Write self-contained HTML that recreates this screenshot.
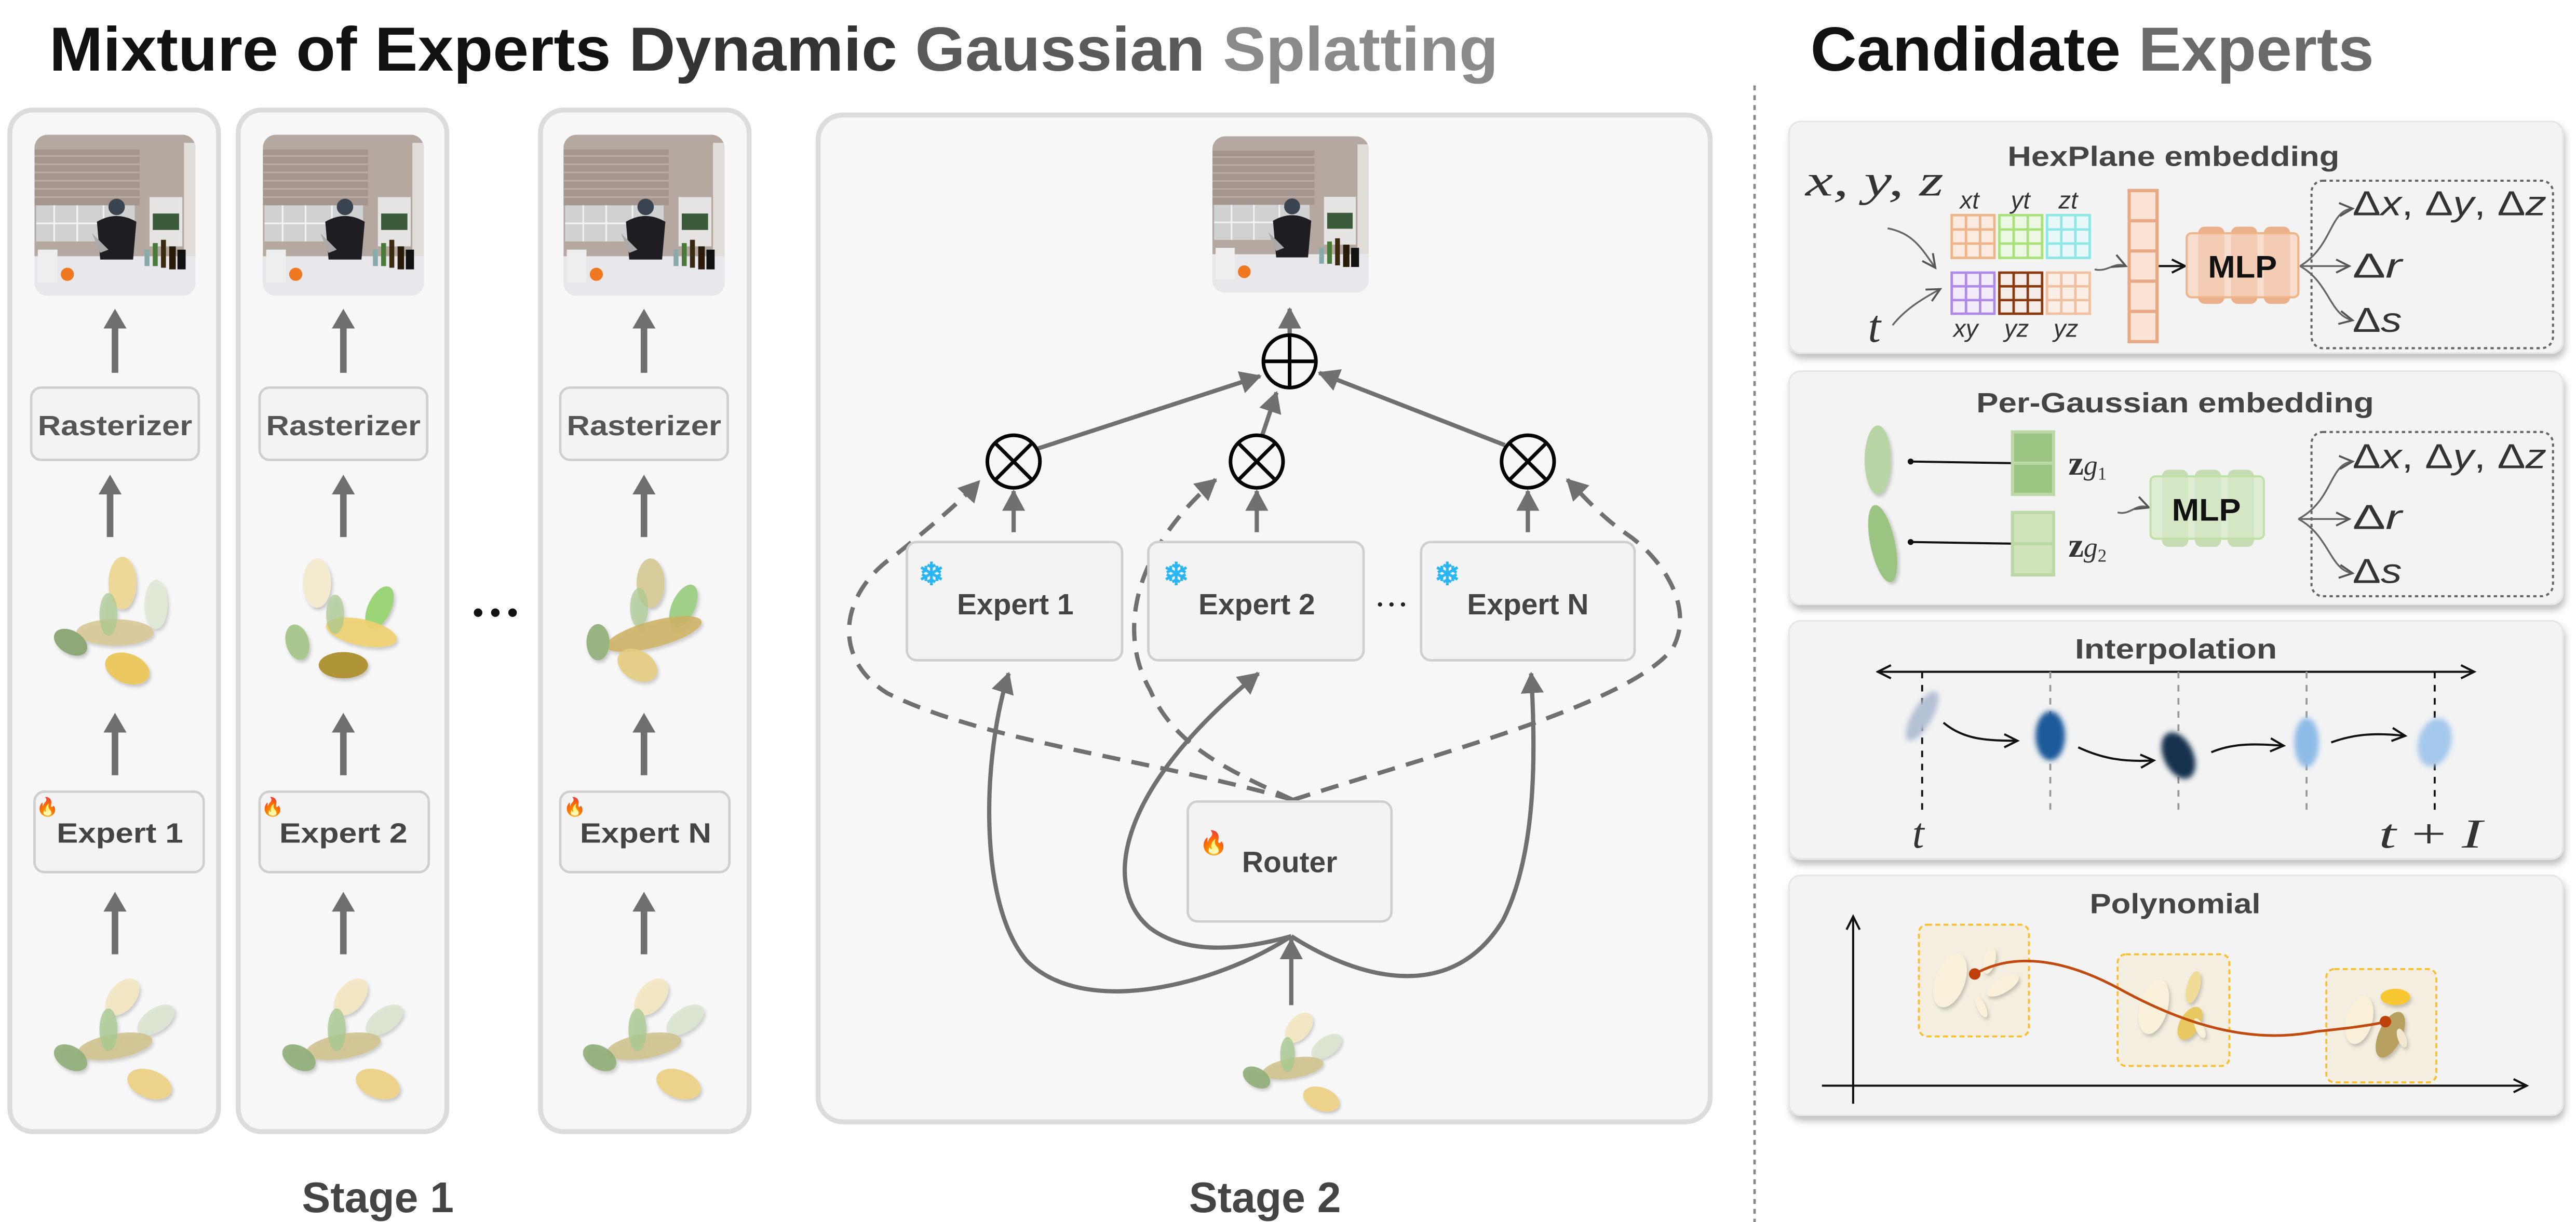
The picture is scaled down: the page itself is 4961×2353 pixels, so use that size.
<!DOCTYPE html>
<html><head><meta charset="utf-8"><style>
html,body{margin:0;padding:0;background:#fff;}
svg{display:block;}
text{font-family:"Liberation Sans",sans-serif;}
.m{font-family:"Liberation Serif",serif;font-style:italic;fill:#333;}
.mu{font-family:"Liberation Serif",serif;fill:#333;}
</style></head><body>
<svg width="4961" height="2353" viewBox="0 0 1568 744" preserveAspectRatio="none" xmlns="http://www.w3.org/2000/svg">
<defs>
 <marker id="ah" markerUnits="userSpaceOnUse" markerWidth="16" markerHeight="16" refX="12" refY="7" orient="auto">
  <path d="M0,0 L13,7 L0,14 Z" fill="#707070"/>
 </marker>
 <marker id="oa" markerUnits="userSpaceOnUse" markerWidth="12" markerHeight="12" refX="9" refY="5" orient="auto">
  <path d="M1,1 L9,5 L1,9" fill="none" stroke="#555" stroke-width="1.2"/>
 </marker>
 <marker id="ba" markerUnits="userSpaceOnUse" markerWidth="12" markerHeight="12" refX="9" refY="5" orient="auto">
  <path d="M1,1 L9,5 L1,9" fill="none" stroke="#111" stroke-width="1.3"/>
 </marker>
 <marker id="bs" markerUnits="userSpaceOnUse" markerWidth="12" markerHeight="12" refX="1" refY="5" orient="auto">
  <path d="M9,1 L1,5 L9,9" fill="none" stroke="#111" stroke-width="1.3"/>
 </marker>
 <filter id="sh" x="-10%" y="-10%" width="120%" height="130%"><feDropShadow dx="1" dy="3" stdDeviation="2" flood-color="#000" flood-opacity="0.25"/></filter>
 <filter id="bl" x="-50%" y="-50%" width="200%" height="200%"><feGaussianBlur stdDeviation="1.6"/></filter>
 <filter id="es" x="-30%" y="-30%" width="160%" height="160%"><feDropShadow dx="1" dy="1.5" stdDeviation="1" flood-color="#000" flood-opacity="0.2"/></filter>
 <clipPath id="pc"><rect x="0" y="0" width="98" height="98" rx="8"/></clipPath>
 <g id="photo">
  <g clip-path="url(#pc)">
   <rect width="98" height="98" fill="#b4a8a0"/>
   <rect x="0" y="9" width="64" height="34" fill="#a4968e"/>
   <g stroke="#b8aca4" stroke-width="1"><line x1="0" y1="13" x2="64" y2="13"/><line x1="0" y1="18" x2="64" y2="18"/><line x1="0" y1="23" x2="64" y2="23"/><line x1="0" y1="28" x2="64" y2="28"/><line x1="0" y1="33" x2="64" y2="33"/><line x1="0" y1="38" x2="64" y2="38"/></g>
   <rect x="1" y="43" width="60" height="22" fill="#cfd2d0"/>
   <g stroke="#f2f2f2" stroke-width="1"><line x1="12" y1="43" x2="12" y2="65"/><line x1="26" y1="43" x2="26" y2="65"/><line x1="42" y1="43" x2="42" y2="65"/><line x1="1" y1="54" x2="61" y2="54"/></g>
   <rect x="70" y="38" width="20" height="30" fill="#e6e4e2"/>
   <rect x="72" y="48" width="16" height="10" fill="#3a5a3a"/>
   <rect x="91" y="5" width="7" height="80" fill="#e0dcd8"/>
   <rect x="0" y="74" width="98" height="24" fill="#e8e8ec"/>
   <circle cx="50" cy="44" r="5" fill="#3a4450"/>
   <path d="M38,53 Q50,46 62,53 L60,76 L40,76 Z" fill="#1e1e22"/>
   <path d="M35,60 L45,70 L40,72 Z" fill="#aaa"/>
   <rect x="72" y="66" width="3" height="14" fill="#4a7a3a"/><rect x="77" y="64" width="3" height="17" fill="#3a2a10"/><rect x="82" y="68" width="4" height="14" fill="#2a1a0a"/><rect x="87" y="70" width="5" height="12" fill="#111"/><rect x="67" y="70" width="3" height="10" fill="#8aa"/>
   <circle cx="20" cy="85" r="4" fill="#f07820"/><rect x="2" y="70" width="12" height="20" fill="#eee"/>
  </g>
 </g>
 <g id="clb">
  <ellipse cx="74.5" cy="607" rx="8" ry="13" transform="rotate(40 74.5 607)" fill="#f3e6c0" opacity="0.9"/>
  <ellipse cx="95" cy="621" rx="7" ry="13" transform="rotate(55 95 621)" fill="#d8e4cc" opacity="0.85"/>
  <ellipse cx="70" cy="637" rx="23" ry="7.5" transform="rotate(-10 70 637)" fill="#cfc08a" opacity="0.85"/>
  <ellipse cx="66" cy="627" rx="5.5" ry="13" fill="#a8c890" opacity="0.8"/>
  <ellipse cx="43" cy="644" rx="11" ry="7" transform="rotate(30 43 644)" fill="#8fae78" opacity="0.9"/>
  <ellipse cx="91" cy="660" rx="14" ry="8.5" transform="rotate(20 91 660)" fill="#ecd28a"/>
 </g>
</defs>

<!-- Titles -->
<text x="30" y="43" font-size="38" font-weight="bold" textLength="882" lengthAdjust="spacingAndGlyphs"><tspan fill="#111">Mixture of Experts </tspan><tspan fill="#333">Dynamic </tspan><tspan fill="#5a5a5a">Gaussian </tspan><tspan fill="#8a8a8a">Splatting</tspan></text>
<text x="1102" y="43" font-size="38" font-weight="bold" textLength="343" lengthAdjust="spacingAndGlyphs"><tspan fill="#111">Candidate </tspan><tspan fill="#6a6a6a">Experts</tspan></text>

<line x1="1068" y1="52" x2="1068" y2="744" stroke="#888" stroke-width="1.5" stroke-dasharray="3,3"/>

<!-- Stage 1 panels -->
<g>
 <rect x="6" y="67" width="127" height="622" rx="14" fill="#f7f7f7" stroke="#dcdcdc" stroke-width="3"/>
 <rect x="145" y="67" width="127" height="622" rx="14" fill="#f7f7f7" stroke="#dcdcdc" stroke-width="3"/>
 <rect x="329" y="67" width="127" height="622" rx="14" fill="#f7f7f7" stroke="#dcdcdc" stroke-width="3"/>
</g>
<g id="col1">
 <use href="#photo" x="21" y="82"/>
 <path d="M68,227 V200 H63 L70,188 L77,200 H72 V227 Z" fill="#6f6f6f"/>
 <rect x="19" y="236" width="102" height="44" rx="6" fill="#f3f3f3" stroke="#cfcfcf" stroke-width="1.5"/>
 <text x="70" y="265" font-size="17" font-weight="bold" fill="#555" text-anchor="middle" textLength="94" lengthAdjust="spacingAndGlyphs">Rasterizer</text>
 <path d="M65,327 V301 H60 L67,289 L74,301 H69 V327 Z" fill="#6f6f6f"/>
 <path d="M68,472 V446 H63 L70,434 L77,446 H72 V472 Z" fill="#6f6f6f"/>
 <rect x="21" y="482" width="103" height="49" rx="6" fill="#f3f3f3" stroke="#cfcfcf" stroke-width="1.5"/>
 <text x="73" y="513" font-size="17" font-weight="bold" fill="#444" text-anchor="middle" textLength="77" lengthAdjust="spacingAndGlyphs">Expert 1</text>
 <path d="M68,581 V555 H63 L70,543 L77,555 H72 V581 Z" fill="#6f6f6f"/>
 <use href="#clb" filter="url(#es)"/>
</g>
<!-- top clusters -->
<g filter="url(#es)">
 <ellipse cx="74.5" cy="355" rx="8.5" ry="16" fill="#eed898"/>
 <ellipse cx="95" cy="368" rx="7" ry="15" fill="#dfe8d4" opacity="0.9"/>
 <ellipse cx="70" cy="385" rx="23.5" ry="8" fill="#d6c690" opacity="0.85"/>
 <ellipse cx="66" cy="374" rx="5.5" ry="13" fill="#a8c890" opacity="0.7"/>
 <ellipse cx="43" cy="391" rx="11" ry="7" transform="rotate(30 43 391)" fill="#8fa878"/>
 <ellipse cx="77.5" cy="407" rx="14" ry="9" transform="rotate(20 77.5 407)" fill="#ebc860"/>
</g>
<g filter="url(#es)">
 <ellipse cx="193" cy="355" rx="8.5" ry="15" fill="#f4ead0"/>
 <ellipse cx="231" cy="370" rx="7" ry="14" transform="rotate(25 231 370)" fill="#9cd478"/>
 <ellipse cx="220" cy="385" rx="22" ry="8" transform="rotate(12 220 385)" fill="#f0d070" opacity="0.9"/>
 <ellipse cx="204" cy="374" rx="5.5" ry="12" fill="#a8c890" opacity="0.7"/>
 <ellipse cx="181" cy="391" rx="7" ry="11" transform="rotate(-15 181 391)" fill="#a8c890"/>
 <ellipse cx="209" cy="405" rx="15" ry="8" fill="#b09438"/>
</g>
<g filter="url(#es)">
 <ellipse cx="396" cy="355" rx="8.5" ry="15" fill="#d8cc9c"/>
 <ellipse cx="416" cy="369" rx="7" ry="14" transform="rotate(25 416 369)" fill="#a0d088"/>
 <ellipse cx="389" cy="370" rx="5.5" ry="12" fill="#a8c890" opacity="0.7"/>
 <ellipse cx="398" cy="386" rx="30" ry="8" transform="rotate(-15 398 386)" fill="#cdb060" opacity="0.85"/>
 <ellipse cx="364" cy="391" rx="7" ry="11" fill="#98b480"/>
 <ellipse cx="388" cy="405" rx="13" ry="9" transform="rotate(30 388 405)" fill="#e6cc80" opacity="0.9"/>
</g>
<g transform="translate(139,0)">
 <use href="#photo" x="21" y="82"/>
 <path d="M68,227 V200 H63 L70,188 L77,200 H72 V227 Z" fill="#6f6f6f"/>
 <rect x="19" y="236" width="102" height="44" rx="6" fill="#f3f3f3" stroke="#cfcfcf" stroke-width="1.5"/>
 <text x="70" y="265" font-size="17" font-weight="bold" fill="#555" text-anchor="middle" textLength="94" lengthAdjust="spacingAndGlyphs">Rasterizer</text>
 <path d="M68,327 V301 H63 L70,289 L77,301 H72 V327 Z" fill="#6f6f6f"/>
 <path d="M68,472 V446 H63 L70,434 L77,446 H72 V472 Z" fill="#6f6f6f"/>
 <rect x="19" y="482" width="103" height="49" rx="6" fill="#f3f3f3" stroke="#cfcfcf" stroke-width="1.5"/>
 <text x="70" y="513" font-size="17" font-weight="bold" fill="#444" text-anchor="middle" textLength="78" lengthAdjust="spacingAndGlyphs">Expert 2</text>
 <path d="M68,581 V555 H63 L70,543 L77,555 H72 V581 Z" fill="#6f6f6f"/>
 <use href="#clb" filter="url(#es)"/>
</g>
<g transform="translate(322,0)">
 <use href="#photo" x="21" y="82"/>
 <path d="M68,227 V200 H63 L70,188 L77,200 H72 V227 Z" fill="#6f6f6f"/>
 <rect x="19" y="236" width="102" height="44" rx="6" fill="#f3f3f3" stroke="#cfcfcf" stroke-width="1.5"/>
 <text x="70" y="265" font-size="17" font-weight="bold" fill="#555" text-anchor="middle" textLength="94" lengthAdjust="spacingAndGlyphs">Rasterizer</text>
 <path d="M68,327 V301 H63 L70,289 L77,301 H72 V327 Z" fill="#6f6f6f"/>
 <path d="M68,472 V446 H63 L70,434 L77,446 H72 V472 Z" fill="#6f6f6f"/>
 <rect x="19" y="482" width="103" height="49" rx="6" fill="#f3f3f3" stroke="#cfcfcf" stroke-width="1.5"/>
 <text x="71" y="513" font-size="17" font-weight="bold" fill="#444" text-anchor="middle" textLength="80" lengthAdjust="spacingAndGlyphs">Expert N</text>
 <path d="M68,581 V555 H63 L70,543 L77,555 H72 V581 Z" fill="#6f6f6f"/>
 <use href="#clb" filter="url(#es)"/>
</g>
<g font-size="11"><text x="22" y="495">🔥</text><text x="159" y="495">🔥</text><text x="343" y="495">🔥</text></g>
<g fill="#111"><circle cx="291" cy="373" r="2.6"/><circle cx="301.5" cy="373" r="2.6"/><circle cx="312" cy="373" r="2.6"/></g>

<text x="230" y="738" font-size="26" font-weight="bold" fill="#444" text-anchor="middle">Stage 1</text>
<text x="770" y="738" font-size="26" font-weight="bold" fill="#444" text-anchor="middle">Stage 2</text>

<!-- Stage 2 -->
<rect x="498" y="70" width="543" height="613" rx="15" fill="#f7f7f7" stroke="#dcdcdc" stroke-width="3"/>
<use href="#photo" transform="translate(738,83) scale(0.97)"/>
<g fill="none" stroke="#707070" stroke-width="2.6">
 <line x1="785" y1="203" x2="785" y2="188" marker-end="url(#ah)"/>
 <line x1="632" y1="273" x2="767" y2="229" marker-end="url(#ah)"/>
 <line x1="768" y1="266" x2="777" y2="239" marker-end="url(#ah)"/>
 <line x1="916" y1="271" x2="803" y2="227" marker-end="url(#ah)"/>
 <line x1="617" y1="324" x2="617" y2="299" marker-end="url(#ah)"/>
 <line x1="765" y1="324" x2="765" y2="299" marker-end="url(#ah)"/>
 <line x1="930" y1="324" x2="930" y2="299" marker-end="url(#ah)"/>
</g>
<g fill="none" stroke="#000" stroke-width="2.2">
 <circle cx="785" cy="220" r="16"/><line x1="769" y1="220" x2="801" y2="220"/><line x1="785" y1="204" x2="785" y2="236"/>
 <circle cx="617" cy="281" r="16"/><line x1="606" y1="270" x2="628" y2="292"/><line x1="628" y1="270" x2="606" y2="292"/>
 <circle cx="765" cy="281" r="16"/><line x1="754" y1="270" x2="776" y2="292"/><line x1="776" y1="270" x2="754" y2="292"/>
 <circle cx="930" cy="281" r="16"/><line x1="919" y1="270" x2="941" y2="292"/><line x1="941" y1="270" x2="919" y2="292"/>
</g>
<g fill="none" stroke="#707070" stroke-width="2.6" stroke-dasharray="11,7">
 <path d="M787,487 C700,462 600,452 540,422 C505,400 512,360 545,338 C565,322 585,305 596,293" marker-end="url(#ah)"/>
 <path d="M787,487 C750,470 715,455 700,420 C680,385 690,335 740,292" marker-end="url(#ah)"/>
 <path d="M787,487 C870,460 990,430 1018,395 C1032,370 1012,340 990,325 C975,315 962,300 954,292" marker-end="url(#ah)"/>
</g>
<g fill="none" stroke="#707070" stroke-width="2.6">
 <path d="M786,570 C740,600 660,620 625,585 C595,550 598,460 614,410" marker-end="url(#ah)"/>
 <path d="M786,570 C750,580 720,580 700,565 C670,540 680,480 766,410" marker-end="url(#ah)"/>
 <path d="M786,570 C830,598 885,610 915,560 C935,520 935,460 932,410" marker-end="url(#ah)"/>
 <line x1="786" y1="612" x2="786" y2="572" marker-end="url(#ah)"/>
</g>
<g fill="#f3f3f3" stroke="#cfcfcf" stroke-width="1.5">
 <rect x="552" y="330" width="131" height="72" rx="6"/>
 <rect x="699" y="330" width="131" height="72" rx="6"/>
 <rect x="865" y="330" width="130" height="72" rx="6"/>
 <rect x="723" y="488" width="124" height="73" rx="6"/>
</g>
<g font-size="19" fill="#29b6f6" font-weight="bold"><text x="559" y="356">❄</text><text x="708" y="356">❄</text><text x="873" y="356">❄</text></g>
<g font-size="18" font-weight="bold" fill="#444" text-anchor="middle">
 <text x="618" y="374">Expert 1</text><text x="765" y="374">Expert 2</text><text x="930" y="374">Expert N</text>
 <text x="785" y="531">Router</text>
</g>
<text x="730" y="518" font-size="14">🔥</text>
<g fill="#222"><circle cx="840" cy="368" r="1.3"/><circle cx="847" cy="368" r="1.3"/><circle cx="854" cy="368" r="1.3"/></g>
<g transform="translate(787,647) scale(0.82) translate(-70,-633)" filter="url(#es)"><use href="#clb"/></g>

<!-- Right panels -->
<g filter="url(#sh)" fill="#f3f3f3" stroke="#e6e6e6" stroke-width="1">
 <rect x="1089" y="74" width="471" height="141" rx="7"/>
 <rect x="1089" y="226" width="471" height="142" rx="7"/>
 <rect x="1089" y="378" width="471" height="145" rx="7"/>
 <rect x="1089" y="533" width="471" height="146" rx="7"/>
</g>
<g font-weight="bold" fill="#444" font-size="17">
 <text x="1222" y="101" textLength="202" lengthAdjust="spacingAndGlyphs">HexPlane embedding</text>
 <text x="1203" y="251" textLength="242" lengthAdjust="spacingAndGlyphs">Per-Gaussian embedding</text>
 <text x="1263" y="401" textLength="123" lengthAdjust="spacingAndGlyphs">Interpolation</text>
 <text x="1272" y="556" textLength="104" lengthAdjust="spacingAndGlyphs">Polynomial</text>
</g>
<!-- HexPlane -->
<text class="m" x="1099" y="119" font-size="27" textLength="84" lengthAdjust="spacingAndGlyphs">x, y, z</text>
<text class="m" x="1137" y="208" font-size="28">t</text>
<g class="m" font-size="15"><text x="1193" y="127">xt</text><text x="1224" y="127">yt</text><text x="1253" y="127">zt</text>
<text x="1189" y="205">xy</text><text x="1220" y="205">yz</text><text x="1250" y="205">yz</text></g>
<g stroke-width="1.5">
 <g stroke="#f0b48a" fill="#fbeadf"><rect x="1188" y="131" width="26" height="26"/><path d="M1196.7,131V157M1205.3,131V157M1188,139.7H1214M1188,148.3H1214" fill="none"/></g>
 <g stroke="#a8e07a" fill="#edf8e4"><rect x="1217" y="131" width="26" height="26"/><path d="M1225.7,131V157M1234.3,131V157M1217,139.7H1243M1217,148.3H1243" fill="none"/></g>
 <g stroke="#8ee6e6" fill="#e8f8f8"><rect x="1246" y="131" width="26" height="26"/><path d="M1254.7,131V157M1263.3,131V157M1246,139.7H1272M1246,148.3H1272" fill="none"/></g>
 <g stroke="#b08ae8" fill="#f1ebfa"><rect x="1188" y="166" width="26" height="25"/><path d="M1196.7,166V191M1205.3,166V191M1188,174.3H1214M1188,182.7H1214" fill="none"/></g>
 <g stroke="#8b3a10" fill="#f3ece8"><rect x="1217" y="166" width="26" height="25"/><path d="M1225.7,166V191M1234.3,166V191M1217,174.3H1243M1217,182.7H1243" fill="none"/></g>
 <g stroke="#f0c0a0" fill="#fbeee6"><rect x="1246" y="166" width="26" height="25"/><path d="M1254.7,166V191M1263.3,166V191M1246,174.3H1272M1246,182.7H1272" fill="none"/></g>
</g>
<g fill="none" stroke="#666" stroke-width="1.1">
 <path d="M1149,139 C1165,142 1170,152 1178,163" marker-end="url(#oa)"/>
 <path d="M1152,198 C1160,188 1170,182 1181,176" marker-end="url(#oa)"/>
 <path d="M1275,164 C1283,166 1287,159 1294,162" marker-end="url(#oa)"/>
</g>
<g fill="#fbe3d6" stroke="#eaa985" stroke-width="2"><rect x="1296" y="116" width="17" height="92"/><path d="M1296,134.4H1313M1296,152.8H1313M1296,171.2H1313M1296,189.6H1313" fill="none"/></g>
<line x1="1314" y1="162" x2="1330" y2="162" stroke="#111" stroke-width="1.3" marker-end="url(#ba)"/>
<g fill="#eab08c"><rect x="1338" y="138" width="16" height="47" rx="4"/><rect x="1358" y="138" width="16" height="47" rx="4"/><rect x="1378" y="138" width="16" height="47" rx="4"/></g>
<rect x="1331" y="142" width="68" height="39" rx="3" fill="#f7d6c2" fill-opacity="0.75" stroke="#f0b48a" stroke-width="1.3"/>
<text x="1365" y="169" font-size="19" font-weight="bold" fill="#111" text-anchor="middle" textLength="42" lengthAdjust="spacingAndGlyphs">MLP</text>
<rect x="1407" y="110" width="147" height="102" rx="7" fill="none" stroke="#666" stroke-width="1.3" stroke-dasharray="2,2"/>
<g fill="none" stroke="#666" stroke-width="1.1">
 <path d="M1400,162 C1420,150 1418,128 1432,127" marker-end="url(#oa)"/>
 <path d="M1400,162 L1430,162" marker-end="url(#oa)"/>
 <path d="M1400,162 C1418,172 1418,192 1432,195" marker-end="url(#oa)"/>
</g>
<g class="mu" font-size="21"><text x="1432" y="131" textLength="118" lengthAdjust="spacingAndGlyphs">Δ<tspan font-style="italic">x</tspan>, Δ<tspan font-style="italic">y</tspan>, Δ<tspan font-style="italic">z</tspan></text>
<text x="1432" y="169" textLength="30" lengthAdjust="spacingAndGlyphs">Δ<tspan font-style="italic">r</tspan></text><text x="1432" y="202" textLength="30" lengthAdjust="spacingAndGlyphs">Δ<tspan font-style="italic">s</tspan></text></g>

<!-- Per-Gaussian -->
<ellipse cx="1143" cy="280" rx="8" ry="21" fill="#b8d5a6" filter="url(#es)"/>
<ellipse cx="1146" cy="331" rx="7.5" ry="24" transform="rotate(-12 1146 331)" fill="#9bc382" filter="url(#es)"/>
<g stroke="#111" stroke-width="1.3"><line x1="1163" y1="281" x2="1225" y2="282"/><line x1="1163" y1="330" x2="1225" y2="331"/></g>
<g fill="#111"><circle cx="1163" cy="281" r="1.8"/><circle cx="1163" cy="330" r="1.8"/></g>
<g stroke="#bcd8a6" stroke-width="2"><rect x="1225" y="263" width="25" height="38" fill="#9bc382"/><line x1="1225" y1="282" x2="1250" y2="282"/>
<rect x="1225" y="312" width="25" height="38" fill="#cfe5b9"/><line x1="1225" y1="331" x2="1250" y2="331"/></g>
<text class="mu" x="1259" y="289" font-size="21" font-weight="bold" font-style="normal">z<tspan class="m" font-size="17" font-weight="normal">g</tspan><tspan font-size="11" font-weight="normal" dy="3">1</tspan></text>
<text class="mu" x="1259" y="339" font-size="21" font-weight="bold" font-style="normal">z<tspan class="m" font-size="17" font-weight="normal">g</tspan><tspan font-size="11" font-weight="normal" dy="3">2</tspan></text>
<path d="M1289,312 C1297,314 1300,306 1308,309" fill="none" stroke="#666" stroke-width="1.1" marker-end="url(#oa)"/>
<g fill="#c7dcb5"><rect x="1316" y="286" width="16" height="47" rx="4"/><rect x="1336" y="286" width="16" height="47" rx="4"/><rect x="1356" y="286" width="16" height="47" rx="4"/></g>
<rect x="1309" y="290" width="69" height="38" rx="3" fill="#d8eac9" fill-opacity="0.75" stroke="#c0e0a8" stroke-width="1.3"/>
<text x="1343" y="317" font-size="19" font-weight="bold" fill="#111" text-anchor="middle" textLength="42" lengthAdjust="spacingAndGlyphs">MLP</text>
<rect x="1407" y="263" width="147" height="100" rx="7" fill="none" stroke="#666" stroke-width="1.3" stroke-dasharray="2,2"/>
<g fill="none" stroke="#666" stroke-width="1.1">
 <path d="M1399,316 C1420,305 1418,282 1432,281" marker-end="url(#oa)"/>
 <path d="M1399,316 L1430,316" marker-end="url(#oa)"/>
 <path d="M1399,316 C1418,326 1418,347 1432,349" marker-end="url(#oa)"/>
</g>
<g class="mu" font-size="21"><text x="1432" y="285" textLength="118" lengthAdjust="spacingAndGlyphs">Δ<tspan font-style="italic">x</tspan>, Δ<tspan font-style="italic">y</tspan>, Δ<tspan font-style="italic">z</tspan></text>
<text x="1432" y="322" textLength="30" lengthAdjust="spacingAndGlyphs">Δ<tspan font-style="italic">r</tspan></text><text x="1432" y="355" textLength="30" lengthAdjust="spacingAndGlyphs">Δ<tspan font-style="italic">s</tspan></text></g>

<!-- Interpolation -->
<line x1="1143" y1="409" x2="1506" y2="409" stroke="#111" stroke-width="1.3" marker-start="url(#bs)" marker-end="url(#ba)"/>
<g stroke-width="1.2" stroke-dasharray="4,4">
 <line x1="1170" y1="409" x2="1170" y2="495" stroke="#111"/>
 <line x1="1482" y1="409" x2="1482" y2="495" stroke="#111"/>
 <line x1="1248" y1="409" x2="1248" y2="495" stroke="#999"/>
 <line x1="1326" y1="409" x2="1326" y2="495" stroke="#999"/>
 <line x1="1404" y1="409" x2="1404" y2="495" stroke="#999"/>
</g>
<g filter="url(#bl)">
 <ellipse cx="1170" cy="436" rx="6" ry="17" transform="rotate(30 1170 436)" fill="#b4c0d4"/>
 <ellipse cx="1248" cy="448" rx="9" ry="15" fill="#1f5a9a"/>
 <ellipse cx="1326" cy="460" rx="9" ry="15" transform="rotate(-25 1326 460)" fill="#12304f"/>
 <ellipse cx="1404" cy="452" rx="7.5" ry="15" fill="#8fbbe8"/>
 <ellipse cx="1482" cy="452" rx="10" ry="15" transform="rotate(15 1482 452)" fill="#a4c8ec"/>
</g>
<g fill="none" stroke="#111" stroke-width="1.3">
 <path d="M1183,440 C1195,450 1208,451 1228,451" marker-end="url(#ba)"/>
 <path d="M1265,455 C1280,462 1293,464 1311,463" marker-end="url(#ba)"/>
 <path d="M1346,458 C1360,452 1374,453 1390,454" marker-end="url(#ba)"/>
 <path d="M1419,452 C1433,447 1445,446 1464,448" marker-end="url(#ba)"/>
</g>
<text class="m" x="1164" y="516" font-size="26">t</text>
<text class="m" x="1448" y="516" font-size="25" textLength="63" lengthAdjust="spacingAndGlyphs">t <tspan font-style="normal">+</tspan> I</text>

<!-- Polynomial -->
<line x1="1128" y1="672" x2="1128" y2="558" stroke="#111" stroke-width="1.3" marker-end="url(#ba)"/>
<line x1="1109" y1="661" x2="1538" y2="661" stroke="#111" stroke-width="1.3" marker-end="url(#ba)"/>
<g fill="#f3eedf" stroke="#f8c030" stroke-width="1.2" stroke-dasharray="3,2">
 <rect x="1168" y="563" width="67" height="68" rx="5"/>
 <rect x="1289" y="581" width="68" height="68" rx="5"/>
 <rect x="1416" y="590" width="67" height="69" rx="5"/>
</g>
<g filter="url(#es)">
 <ellipse cx="1187" cy="597" rx="9" ry="17" transform="rotate(20 1187 597)" fill="#f8f0d8"/>
 <ellipse cx="1211" cy="585" rx="3.5" ry="8" transform="rotate(15 1211 585)" fill="#f8f0d8"/>
 <ellipse cx="1219" cy="600" rx="4.5" ry="11" transform="rotate(60 1219 600)" fill="#f8f0d8"/>
 <ellipse cx="1206" cy="613" rx="2.5" ry="7" transform="rotate(-25 1206 613)" fill="#f8f0d8"/>
 <ellipse cx="1311" cy="613" rx="8.5" ry="17" transform="rotate(15 1311 613)" fill="#f8f0d8"/>
 <ellipse cx="1335" cy="601" rx="4" ry="10" transform="rotate(15 1335 601)" fill="#f0dc98"/>
 <ellipse cx="1333" cy="623" rx="6" ry="11" transform="rotate(30 1333 623)" fill="#e8c860"/>
 <ellipse cx="1339" cy="626" rx="2.5" ry="6.5" transform="rotate(-25 1339 626)" fill="#f8f0d8"/>
 <ellipse cx="1436" cy="621" rx="8" ry="15" transform="rotate(15 1436 621)" fill="#f8f0d8"/>
 <ellipse cx="1458" cy="607" rx="9" ry="5" fill="#f8c830"/>
 <ellipse cx="1455" cy="630" rx="7" ry="15" transform="rotate(25 1455 630)" fill="#b8a060"/>
 <ellipse cx="1462" cy="632" rx="2.5" ry="6" transform="rotate(-20 1462 632)" fill="#f0e8d0"/>
</g>
<path d="M1202,593 C1225,580 1255,583 1290,602 C1330,624 1370,636 1410,628 C1430,626 1445,624 1452,622" fill="none" stroke="#c04a10" stroke-width="1.6"/>
<circle cx="1202" cy="593" r="3.5" fill="#c0400a"/><circle cx="1452" cy="622" r="3.5" fill="#c0400a"/>
</svg>
</body></html>
